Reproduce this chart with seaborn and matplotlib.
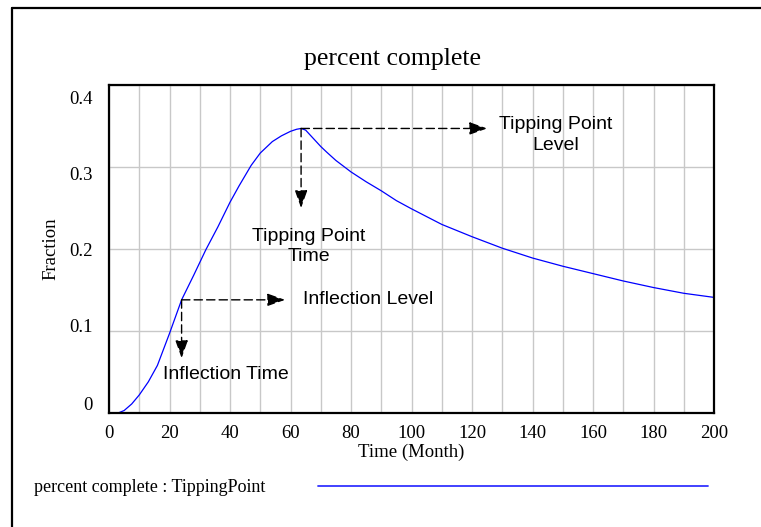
import numpy as np
import pandas as pd
import matplotlib
matplotlib.use("Agg")
import matplotlib.pyplot as plt
import matplotlib.transforms as mtransforms
from matplotlib.lines import Line2D
import seaborn as sns

# ---- data ----
time_month = [0, 3, 5, 7.5, 10, 13, 16, 20, 24, 28, 32, 36, 40, 43, 47, 50,
              54, 57, 60, 62, 63.5, 65, 66.5, 68, 70, 72, 75, 80, 85, 90, 95,
              100, 110, 120, 130, 140, 150, 160, 170, 180, 190, 200]
percent_complete = [0.0, 0.0, 0.003, 0.011, 0.022, 0.038, 0.058, 0.097, 0.138,
                    0.168, 0.199, 0.227, 0.257, 0.277, 0.302, 0.317, 0.331,
                    0.338, 0.3435, 0.346, 0.347, 0.345, 0.339, 0.333, 0.325,
                    0.318, 0.308, 0.294, 0.282, 0.271, 0.259, 0.249, 0.230,
                    0.215, 0.201, 0.189, 0.179, 0.170, 0.161, 0.153, 0.146,
                    0.141]
x_ticks = [0, 20, 40, 60, 80, 100, 120, 140, 160, 180, 200]
y_ticks = [0, 0.1, 0.2, 0.3, 0.4]
y_tick_labels = ["0", "0.1", "0.2", "0.3", "0.4"]
inflection_time, inflection_level = 24, 0.138
tipping_time, tipping_level = 63.5, 0.347

df = pd.DataFrame({"Time (Month)": time_month, "Fraction": percent_complete})

sns.set_theme(style="white")
plt.rcParams["font.family"] = ["Liberation Serif", "DejaVu Serif"]

W, H = 761, 527
fig = plt.figure(figsize=(W / 100, H / 100), dpi=100)
ax = fig.add_axes([109 / W, (H - 413) / H, 605 / W, 328 / H])

sns.lineplot(data=df, x="Time (Month)", y="Fraction", ax=ax, color="#0000ff",
             lw=0.9, zorder=3)

ax.set_xlim(0, 200)
ax.set_ylim(0, 0.4)
ax.set_xticks(x_ticks)
ax.set_xticks(np.arange(10, 200, 10), minor=True)
ax.set_yticks(y_ticks)
ax.set_yticklabels(y_tick_labels)
ax.tick_params(axis="both", which="both", length=0, labelsize=13.5,
               colors="black")
ax.tick_params(axis="x", pad=9)
ax.tick_params(axis="y", pad=12)
ax.grid(True, which="both", axis="x", color="#c8c8c8", lw=1.0)
ax.grid(True, which="major", axis="y", color="#c8c8c8", lw=1.0)
for s in ax.spines.values():
    s.set_visible(True)
    s.set_color("black")
    s.set_linewidth(1.6)
    s.set_zorder(4)

# shift y tick labels like the reference (labels pulled inward at the ends)
offsets_up_px = {"0.4": -13, "0.3": -6, "0.2": 0, "0.1": 5, "0": 10}
for lab in ax.get_yticklabels():
    dy = offsets_up_px.get(lab.get_text(), 0)
    lab.set_transform(lab.get_transform() +
                      mtransforms.ScaledTranslation(0, dy / 100, fig.dpi_scale_trans))

ax.set_xlabel("Time (Month)", fontsize=13.5, labelpad=1, color="black")
ax.set_ylabel("Fraction", fontsize=13.5, labelpad=7, color="black")

# title
fig.text(392 / W, 1 - 59 / H, "percent complete", ha="center", va="center",
         fontsize=18.5, color="black")

# annotations
ann_font = dict(family=["Liberation Sans", "DejaVu Sans"], fontsize=14,
                color="black")
arrow_kw = dict(arrowstyle="-|>,head_length=0.9,head_width=0.32",
                linestyle=(0, (6, 3)), color="black", lw=1.0,
                shrinkA=0, shrinkB=0)
ax.annotate("", xy=(58.2, inflection_level),
            xytext=(inflection_time, inflection_level), arrowprops=arrow_kw)
ax.annotate("", xy=(inflection_time, 0.067),
            xytext=(inflection_time, inflection_level), arrowprops=arrow_kw)
ax.annotate("", xy=(125, tipping_level),
            xytext=(tipping_time, tipping_level), arrowprops=arrow_kw)
ax.annotate("", xy=(tipping_time, 0.250),
            xytext=(tipping_time, tipping_level), arrowprops=arrow_kw)

ax.text(64, inflection_level, "Inflection Level", ha="left", va="center",
        **ann_font)
ax.text(38.8, 0.047, "Inflection Time", ha="center", va="center", **ann_font)
ax.text(147.8, 0.339, "Tipping Point\nLevel", ha="center", va="center",
        linespacing=1.3, **ann_font)
ax.text(66, 0.203, "Tipping Point\nTime", ha="center", va="center",
        linespacing=1.3, **ann_font)

# legend row
fig.text(34 / W, 1 - 487 / H, "percent complete : TippingPoint", ha="left",
         va="center", fontsize=13, color="black")
fig.add_artist(Line2D([318 / W, 708 / W], [1 - 486 / H, 1 - 486 / H],
                      color="#3333ff", lw=1.3, transform=fig.transFigure))

# outer frame (top and left edges visible)
fig.add_artist(Line2D([12 / W, 1.01], [1 - 7.5 / H, 1 - 7.5 / H],
                      color="black", lw=1.6, transform=fig.transFigure))
fig.add_artist(Line2D([12 / W, 12 / W], [-0.01, 1 - 7.5 / H],
                      color="black", lw=1.6, transform=fig.transFigure))

fig.savefig("out.png", dpi=100, facecolor="white")
